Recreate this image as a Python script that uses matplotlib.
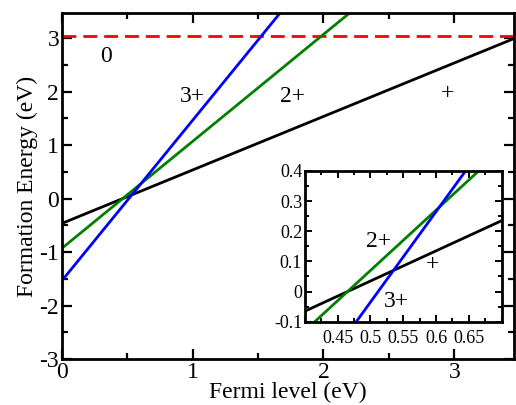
import matplotlib
matplotlib.use("Agg")
import matplotlib.pyplot as plt
from matplotlib.ticker import MultipleLocator, FixedLocator

plt.rcParams['font.family'] = ['Liberation Serif', 'DejaVu Serif']
plt.rcParams['axes.unicode_minus'] = False

# line endpoints (Fermi level -> formation energy)
ef = [0.0, 3.5]
e_neutral = [3.03, 3.03]
e_plus = [-0.465, 3.035]
e_2plus = [-0.93, 6.07]
e_3plus = [-1.535, 8.965]

main_labels = ["0", "3+", "2+", "+"]
main_label_x = [0.34, 1.0, 1.76, 2.95]
main_label_y = [2.66, 1.91, 1.90, 1.97]

inset_labels = ["2+", "+", "3+"]
inset_label_x = [0.512, 0.595, 0.539]
inset_label_y = [0.165, 0.088, -0.032]
inset_xticks = [0.45, 0.5, 0.55, 0.6, 0.65]
inset_xticklabels = ["0.45", "0.5", "0.55", "0.6", "0.65"]
inset_yticks = [-0.1, 0.0, 0.1, 0.2, 0.3, 0.4]
inset_yticklabels = ["-0.1", "0", "0.1", "0.2", "0.3", "0.4"]

BLUE = '#0000ff'
GREEN = '#008000'
RED = '#ff0000'


def draw_lines(ax, lw):
    ax.plot(ef, e_neutral, color=RED, lw=lw, dashes=(5, 2.5))
    ax.plot(ef, e_plus, color='black', lw=lw)
    ax.plot(ef, e_2plus, color=GREEN, lw=lw)
    ax.plot(ef, e_3plus, color=BLUE, lw=lw)


fig = plt.figure(figsize=(5.16, 4.05), dpi=100)

# MAIN PLOT
ax = fig.add_axes([0.120, 0.1136, 0.877, 0.8544])
draw_lines(ax, 2.0)
ax.set_xlim(0, 3.46)
ax.set_ylim(-3, 3.47)
ax.xaxis.set_major_locator(MultipleLocator(1))
ax.xaxis.set_minor_locator(MultipleLocator(0.5))
ax.yaxis.set_major_locator(MultipleLocator(1))
ax.yaxis.set_minor_locator(MultipleLocator(0.5))
ax.tick_params(which='both', direction='in', top=True, right=True, width=1.6,
               labelsize=17, pad=2)
ax.tick_params(which='major', length=7)
ax.tick_params(which='minor', length=4)
for s in ax.spines.values():
    s.set_linewidth(2.0)
ax.set_xlabel('Fermi level (eV)', fontsize=17, labelpad=-1)
ax.set_ylabel('Formation Energy (eV)', fontsize=17, labelpad=1)
for t, x, y in zip(main_labels, main_label_x, main_label_y):
    ax.text(x, y, t, fontsize=17, ha='center', va='center')

# INSET
ins = fig.add_axes([0.591, 0.2057, 0.381, 0.3721])
draw_lines(ins, 2.0)
ins.set_xlim(0.4, 0.7)
ins.set_ylim(-0.1, 0.4)
ins.xaxis.set_major_locator(FixedLocator(inset_xticks))
ins.set_xticklabels(inset_xticklabels)
ins.xaxis.set_minor_locator(MultipleLocator(0.025))
ins.yaxis.set_major_locator(FixedLocator(inset_yticks))
ins.set_yticklabels(inset_yticklabels)
ins.yaxis.set_minor_locator(MultipleLocator(0.05))
ins.set_ylim(-0.1, 0.4)
ins.tick_params(which='both', direction='in', top=True, right=True, width=1.4,
                labelsize=13, pad=2)
ins.tick_params(axis='x', pad=6)
ins.tick_params(which='major', length=5)
ins.tick_params(which='minor', length=3)
for s in ins.spines.values():
    s.set_linewidth(2.0)
for t, x, y in zip(inset_labels, inset_label_x, inset_label_y):
    ins.text(x, y, t, fontsize=17, ha='center', va='center')

fig.savefig('out.png', dpi=100)
